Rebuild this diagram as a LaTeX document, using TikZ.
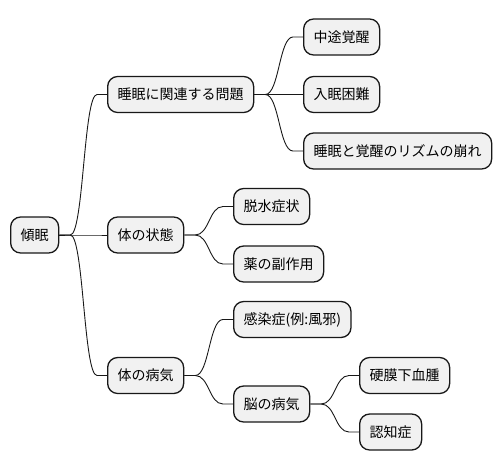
\documentclass[tikz,border=0pt]{standalone}
\usepackage{fontspec}
\setmainfont{Noto Sans CJK JP}
\usetikzlibrary{calc}
\definecolor{boxfill}{HTML}{F1F1F1}
\definecolor{boxline}{HTML}{181818}
\tikzset{
  mm/.style={draw=boxline, fill=boxfill, line width=1.3pt, rounded corners=10pt,
    minimum height=36pt, inner xsep=10pt, inner ysep=0pt, anchor=west,
    font=\fontsize{14}{16}\selectfont, text=black},
  link/.style={draw=boxline, line width=0.9pt}
}
\newcommand\mmlink[2]{%
  \path (#1.east) ++(11,0) coordinate (s-#2);
  \path (#2.west) ++(-10,0) coordinate (e-#2);
  \path ($(s-#2)!0.5!(e-#2)$) coordinate (m-#2);
  \draw[link] (#1.east) -- (s-#2) .. controls (m-#2 |- s-#2) and (m-#2 |- e-#2) .. (e-#2) -- (#2.west);
}
\begin{document}
\begin{tikzpicture}[x=1pt,y=-1pt]
\useasboundingbox (0,0) rectangle (502,471);
\node[mm] (r) at (10,235) {傾眠};
\node[mm] (a) at (107,94.5) {睡眠に関連する問題};
\node[mm] (b) at (107,235) {体の状態};
\node[mm] (c) at (107,375.5) {体の病気};
\node[mm] (a1) at (303,37) {中途覚醒};
\node[mm] (a2) at (303,94.5) {入眠困難};
\node[mm] (a3) at (303,151) {睡眠と覚醒のリズムの崩れ};
\node[mm] (b1) at (233,206.5) {脱水症状};
\node[mm] (b2) at (233,264) {薬の副作用};
\node[mm] (c1) at (233,319.5) {感染症(例:風邪)};
\node[mm] (c2) at (233,404) {脳の病気};
\node[mm] (c21) at (359,375.5) {硬膜下血腫};
\node[mm] (c22) at (359,432) {認知症};
\mmlink{r}{a}
\mmlink{r}{b}
\mmlink{r}{c}
\mmlink{a}{a1}
\mmlink{a}{a2}
\mmlink{a}{a3}
\mmlink{b}{b1}
\mmlink{b}{b2}
\mmlink{c}{c1}
\mmlink{c}{c2}
\mmlink{c2}{c21}
\mmlink{c2}{c22}
\end{tikzpicture}
\end{document}
